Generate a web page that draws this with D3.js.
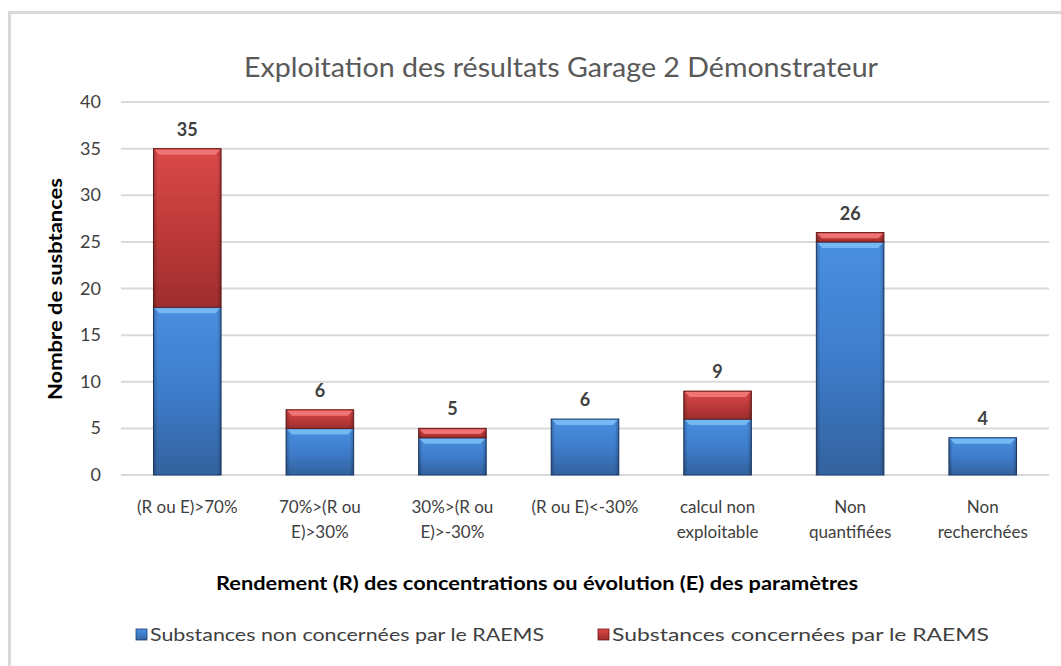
<!DOCTYPE html>
<html>
<head>
	<meta charset="utf-8">
	<title>Exploitation des résultats Garage 2 Démonstrateur</title>
	<style type="text/css">
		body {
			margin: 0;
			background-color: #fff;
		}
		.viz {
			display: block;
			font-family: Lato, "Open Sans", sans-serif;
		}
	</style>
</head>
<body>
	<svg class="viz" width="1061" height="666"></svg>

	<script src="https://d3js.org/d3.v7.min.js" charset="utf-8"></script>
	<script type="text/javascript">

		// data
		var categories = ['(R ou E)>70%', '70%>(R ou E)>30%', '30%>(R ou E)>-30%', '(R ou E)<-30%',
			'calcul non exploitable', 'Non quantifiées', 'Non recherchées'];
		var categoryLines = [['(R ou E)>70%'], ['70%>(R ou', 'E)>30%'], ['30%>(R ou', 'E)>-30%'],
			['(R ou E)<-30%'], ['calcul non', 'exploitable'], ['Non', 'quantifiées'], ['Non', 'recherchées']];
		var nonConcernees = [18, 5, 4, 6, 6, 25, 4];
		var concernees = [17, 2, 1, 0, 3, 1, 0];
		var totalLabels = [35, 6, 5, 6, 9, 26, 4];
		var yTicks = [0, 5, 10, 15, 20, 25, 30, 35, 40];
		var seriesNames = ['Substances non concernées par le RAEMS', 'Substances concernées par le RAEMS'];

		var canvas = d3.select('.viz');

		// chart frame
		canvas.append('rect')
			.attr('x', 9.5).attr('y', 12.5)
			.attr('width', 1100).attr('height', 700)
			.attr('fill', '#fff')
			.attr('stroke', '#d9d9d9')
			.attr('stroke-width', 3);

		var x = d3.scaleBand()
			.domain(categories)
			.range([121, 1049])
			.paddingInner(0.49)
			.paddingOuter(0.245);

		var y = d3.scaleLinear()
			.domain([0, 40])
			.range([475, 102]);

		// gradients for the bevelled bars
		var defs = canvas.append('defs');
		var palettes = [
			{ id: 'blue', top: '#4a8fe0', mid: '#3e7dcc', bottom: '#33629e', light: '#7cc0f7', edge: '#1f3f6e' },
			{ id: 'red', top: '#dc4a4a', mid: '#bf3a3a', bottom: '#9e2d2d', light: '#f47c7c', edge: '#6e1d1d' }
		];
		palettes.forEach(function(p) {
			var g = defs.append('linearGradient')
				.attr('id', 'grad-' + p.id)
				.attr('x1', 0).attr('y1', 0).attr('x2', 0).attr('y2', 1);
			g.append('stop').attr('offset', '0%').attr('stop-color', p.top);
			g.append('stop').attr('offset', '50%').attr('stop-color', p.mid);
			g.append('stop').attr('offset', '100%').attr('stop-color', p.bottom);
		});
		var side = defs.append('linearGradient')
			.attr('id', 'grad-side')
			.attr('x1', 0).attr('y1', 0).attr('x2', 1).attr('y2', 0);
		side.append('stop').attr('offset', '0%').attr('stop-color', '#000').attr('stop-opacity', 0.25);
		side.append('stop').attr('offset', '6%').attr('stop-color', '#000').attr('stop-opacity', 0);
		side.append('stop').attr('offset', '94%').attr('stop-color', '#000').attr('stop-opacity', 0);
		side.append('stop').attr('offset', '100%').attr('stop-color', '#000').attr('stop-opacity', 0.25);

		// gridlines
		canvas.append('g')
			.selectAll('line').data(yTicks)
			.enter().append('line')
				.attr('x1', 121).attr('x2', 1049)
				.attr('y1', function(d) { return y(d); })
				.attr('y2', function(d) { return y(d); })
				.attr('stroke', '#d9d9d9')
				.attr('stroke-width', 2);

		// y axis tick labels
		canvas.append('g')
			.selectAll('text').data(yTicks)
			.enter().append('text')
				.attr('x', 101)
				.attr('y', function(d) { return y(d) + 6; })
				.attr('text-anchor', 'end')
				.attr('font-size', 18)
				.attr('fill', '#404040')
				.text(function(d) { return d; });

		// stacked bars
		var stackData = categories.map(function(c, i) {
			return { cat: c, base: nonConcernees[i], top: concernees[i] };
		});
		var segments = [];
		stackData.forEach(function(d) {
			segments.push({ cat: d.cat, y0: 0, y1: d.base, p: palettes[0] });
			if (d.top > 0) segments.push({ cat: d.cat, y0: d.base, y1: d.base + d.top, p: palettes[1] });
		});

		var bars = canvas.append('g')
			.selectAll('g').data(segments)
			.enter().append('g');

		bars.append('rect')
			.attr('x', function(d) { return x(d.cat); })
			.attr('y', function(d) { return y(d.y1); })
			.attr('width', x.bandwidth())
			.attr('height', function(d) { return y(d.y0) - y(d.y1); })
			.attr('fill', function(d) { return 'url(#grad-' + d.p.id + ')'; })
			.attr('stroke', function(d) { return d.p.edge; })
			.attr('stroke-width', 1);

		bars.append('rect')
			.attr('x', function(d) { return x(d.cat); })
			.attr('y', function(d) { return y(d.y1); })
			.attr('width', x.bandwidth())
			.attr('height', function(d) { return y(d.y0) - y(d.y1); })
			.attr('fill', 'url(#grad-side)');

		// top bevel highlight
		bars.append('path')
			.attr('d', function(d) {
				var x0 = x(d.cat), x1 = x0 + x.bandwidth(), t = y(d.y1);
				var h = Math.min(5, (y(d.y0) - y(d.y1)) / 2);
				return 'M' + (x0 + 1) + ',' + (t + 1) + 'L' + (x1 - 1) + ',' + (t + 1) +
					'L' + (x1 - 1 - h) + ',' + (t + 1 + h) + 'L' + (x0 + 1 + h) + ',' + (t + 1 + h) + 'Z';
			})
			.attr('fill', function(d) { return d.p.light; })
			.attr('opacity', 0.85);

		// total labels above bars
		canvas.append('g')
			.selectAll('text').data(categories)
			.enter().append('text')
				.attr('x', function(d) { return x(d) + x.bandwidth() / 2; })
				.attr('y', function(d, i) { return y(nonConcernees[i] + concernees[i]) - 13; })
				.attr('text-anchor', 'middle')
				.attr('font-size', 18)
				.attr('font-weight', 'bold')
				.attr('fill', '#404040')
				.text(function(d, i) { return totalLabels[i]; });

		// category labels
		var catLabels = canvas.append('g')
			.selectAll('text').data(categories)
			.enter().append('text')
				.attr('text-anchor', 'middle')
				.attr('font-size', 17)
				.attr('fill', '#404040');
		catLabels.selectAll('tspan')
			.data(function(d, i) {
				return categoryLines[i].map(function(l) { return { cat: d, line: l }; });
			})
			.enter().append('tspan')
				.attr('x', function(d) { return x(d.cat) + x.bandwidth() / 2; })
				.attr('y', function(d, j) { return 513 + j * 25; })
				.text(function(d) { return d.line; });

		// title
		canvas.append('text')
			.attr('x', 561).attr('y', 77)
			.attr('text-anchor', 'middle')
			.attr('font-size', 26)
			.attr('textLength', 634)
			.attr('lengthAdjust', 'spacingAndGlyphs')
			.attr('fill', '#595959')
			.text('Exploitation des résultats Garage 2 Démonstrateur');

		// axis titles
		canvas.append('text')
			.attr('transform', 'translate(62,289) rotate(-90)')
			.attr('text-anchor', 'middle')
			.attr('font-size', 18)
			.attr('font-weight', 'bold')
			.attr('textLength', 222)
			.attr('lengthAdjust', 'spacingAndGlyphs')
			.attr('fill', '#000')
			.text('Nombre de susbtances');

		canvas.append('text')
			.attr('x', 537).attr('y', 590)
			.attr('text-anchor', 'middle')
			.attr('font-size', 18)
			.attr('font-weight', 'bold')
			.attr('textLength', 642)
			.attr('lengthAdjust', 'spacingAndGlyphs')
			.attr('fill', '#000')
			.text('Rendement (R) des concentrations  ou évolution (E) des paramètres');

		// legend
		var legendX = [136, 598];
		var legendW = [394, 377];
		var legend = canvas.append('g')
			.selectAll('g').data(seriesNames)
			.enter().append('g')
				.attr('transform', function(d, i) { return 'translate(' + legendX[i] + ',641)'; });
		legend.append('rect')
			.attr('x', 0).attr('y', -12)
			.attr('width', 11).attr('height', 11)
			.attr('fill', function(d, i) { return 'url(#grad-' + palettes[i].id + ')'; })
			.attr('stroke', function(d, i) { return palettes[i].edge; })
			.attr('stroke-width', 0.8);
		legend.append('text')
			.attr('x', 14).attr('y', 0)
			.attr('font-size', 18)
			.attr('textLength', function(d, i) { return legendW[i]; })
			.attr('lengthAdjust', 'spacingAndGlyphs')
			.attr('fill', '#404040')
			.text(function(d) { return d; });

	</script>
</body>
</html>
